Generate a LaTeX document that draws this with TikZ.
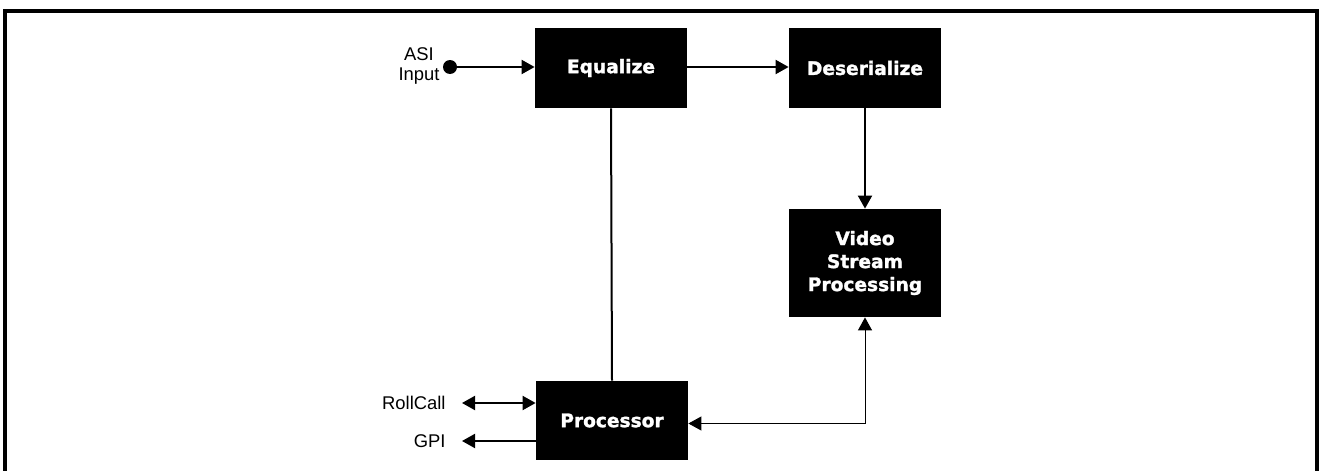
\documentclass[tikz,border=0pt]{standalone}
\usepackage{fontspec}
\setmainfont{Liberation Sans}
\newfontfamily\blockfont[BoldFeatures={FakeBold=1.5}]{DejaVu Sans}
\usetikzlibrary{arrows.meta}
\tikzstyle{block}=[fill=black, text=white, inner sep=0pt, minimum width=76pt, minimum height=40pt, align=center, font=\blockfont\bfseries\fontsize{9.3}{11.5}\selectfont]
\tikzstyle{lbl}=[inner sep=0pt, align=center, font=\fontsize{9.2}{10.2}\selectfont]
\tikzstyle{wire}=[line width=1pt, -{Triangle[length=6.5pt, width=7pt]}]

\begin{document}
\begin{tikzpicture}[x=0.5pt, y=-0.5pt]
        \useasboundingbox (0,0) rectangle (1324,471);
        \draw[line width=2pt] (5,471) -- (5,11) -- (1317,11) -- (1317,471);
        \node[block] (eq) at (611,68) {Equalize};
        \node[block] (deser) at (865,68) {Deserialize};
        \node[block, minimum height=54pt] (vsp) at (865,263) {Video\\Stream\\Processing};
        \node[block, minimum height=39.5pt] (proc) at (612,420.5) {Processor};
        \node[lbl] (asi) at (419,66) {ASI\\Input};
        \node[lbl, anchor=east] (rc) at (446,403) {RollCall};
        \node[lbl, anchor=east] (gpi) at (446,441) {GPI};
        \coordinate (rcend) at (462,403);
        \coordinate (gpiend) at (462,441);
        \fill (450,67) circle (3.5pt) coordinate (dot);
        \draw[wire] (dot) -- (dot -| eq.west);
        \draw[wire] (eq.east |- dot) -- (deser.west |- dot);
        \draw[wire] (deser.south) -- (vsp.north);
        \draw[line width=1pt] (eq.south) -- (proc.north);
        \draw[wire, {Triangle[length=6.5pt, width=7pt]}-{Triangle[length=6.5pt, width=7pt]}] (rcend) -- (rcend -| proc.west);
        \draw[wire] (gpiend -| proc.west) -- (gpiend);
        \draw[line width=0.5pt, {Triangle[length=6.5pt, width=7pt]}-{Triangle[length=6.5pt, width=7pt]}] ([yshift=-1.5pt]proc.east) -| (vsp.south);
    \end{tikzpicture}
\end{document}
